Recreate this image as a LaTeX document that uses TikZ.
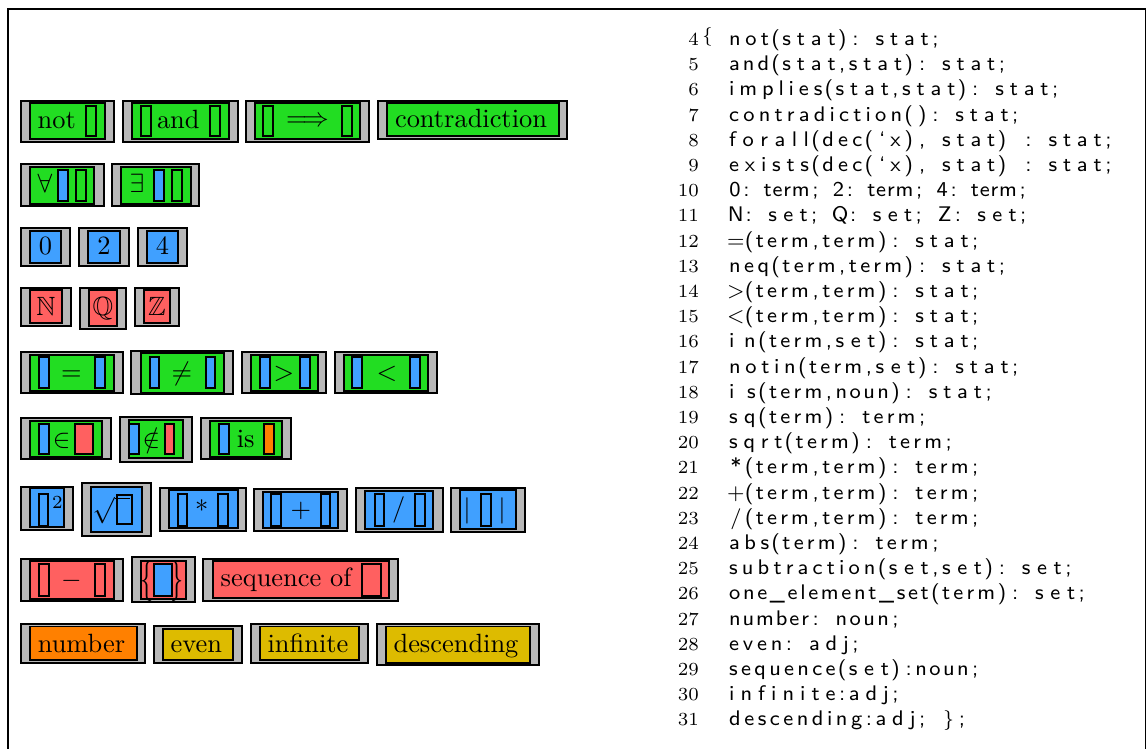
\RequirePackage{fix-cm}
\documentclass[tikz,border=0pt]{standalone}
\usepackage{amsmath,amssymb}
\usepackage{graphicx}
\usetikzlibrary{fit}

\definecolor{stmtgreen}{RGB}{34,221,34}
\definecolor{termblue}{RGB}{64,160,255}
\definecolor{setred}{RGB}{255,96,96}
\definecolor{nounorange}{RGB}{255,128,0}
\definecolor{adjgold}{RGB}{221,187,0}
\definecolor{boxgray}{RGB}{184,184,184}

% all text is set at its design size and magnified to the drawing scale
\newcommand\magn[1]{\scalebox{2.64}{#1}}
\newcommand\lbltxt[1]{\magn{\fontsize{10}{12}\selectfont #1}}
\newcommand\smalltxt[1]{\magn{\fontsize{7}{8}\selectfont #1}}
\newcommand\codeln[2][5.04pt]{\magn{\sffamily\fontsize{8}{9.5}\selectfont\codetext[#1]{#2}}}

% fixed-column typesetting of a code line: letters/digits form words that
% are spread over whole cells, every other character is centred in a cell
\ExplSyntaxOn
\dim_new:N \l_lsx_cell_dim
\tl_new:N \l_lsx_word_tl
\int_new:N \l_lsx_word_int
\cs_new_protected:Npn \lsx_flush:
  {
    \int_compare:nNnT { \l_lsx_word_int } > { 0 }
      {
        \int_compare:nNnTF { \l_lsx_word_int } = { 1 }
          { \hbox_to_wd:nn { \l_lsx_cell_dim } { \hss \l_lsx_word_tl \hss } }
          { \hbox_to_wd:nn { \l_lsx_cell_dim * \l_lsx_word_int } { \l_lsx_word_tl } }
        \tl_clear:N \l_lsx_word_tl
        \int_zero:N \l_lsx_word_int
      }
  }
\NewDocumentCommand \codetext { O{5.04pt} m }
  {
    \group_begin:
    \dim_set:Nn \l_lsx_cell_dim {#1}
    \tl_clear:N \l_lsx_word_tl
    \int_zero:N \l_lsx_word_int
    \str_map_inline:nn {#2}
      {
        \str_if_in:nnTF { abcdefghijklmnopqrstuvwxyzABCDEFGHIJKLMNOPQRSTUVWXYZ0123456789_ } {##1}
          {
            \int_compare:nNnT { \l_lsx_word_int } > { 0 }
              { \tl_put_right:Nn \l_lsx_word_tl { \hss } }
            \tl_put_right:Nn \l_lsx_word_tl { ##1 }
            \int_incr:N \l_lsx_word_int
          }
          {
            \lsx_flush:
            \str_if_eq:nnTF {##1} {~}
              { \skip_horizontal:n { \l_lsx_cell_dim } }
              { \hbox_to_wd:nn { \l_lsx_cell_dim } { \hss ##1 \hss } }
          }
      }
    \lsx_flush:
    \group_end:
  }
\NewDocumentCommand \codecell { m } { \hbox_to_wd:nn { 5.04pt } { \hss #1 \hss } }
\ExplSyntaxOff

\newcommand\graybox[3]{\node[outerbox, fit={(#2) (#3)}] (#1) {};}
\newcommand\colbox[4]{\node[innerbox, fill=#2, fit={(#3) (#4)}] (#1) {};}
\newcommand\holebox[4]{\node[slotbox, fill=#2, fit={(#3) (#4)}] (#1) {};}

\begin{document}
\begin{tikzpicture}[x=1pt, y=-1pt,
  frame/.style={draw=black, line width=1.5pt},
  outerbox/.style={draw=black, line width=1.8pt, fill=boxgray, inner sep=0pt},
  innerbox/.style={draw=black, line width=1.6pt, inner sep=0pt},
  slotbox/.style={draw=black, line width=1.4pt, inner sep=0pt},
  lbl/.style={inner sep=0pt, anchor=base},
  codeline/.style={inner sep=0pt, anchor=base west},
  lineno/.style={inner sep=0pt, anchor=base east},
  brace/.style={inner sep=0pt, anchor=center}]
\useasboundingbox (0,0) rectangle (1146,749);
\draw[frame] (8,9) rectangle (1145.5,760);

% ---- statements
\graybox{notO}{21,101}{114,142}
\colbox{notI}{stmtgreen}{30,103}{105,139}
\holebox{notS}{stmtgreen}{86,106}{96,136}
\node[lbl] (notT) at (56.7,129) {\lbltxt{not}};

\graybox{andO}{123,101}{238,142}
\colbox{andI}{stmtgreen}{132,103}{229,139}
\holebox{andSa}{stmtgreen}{141,106}{151,136}
\holebox{andSb}{stmtgreen}{210,106}{220,136}
\node[lbl] (andT) at (178.3,129) {\lbltxt{and}};

\graybox{impO}{246,101}{369,142}
\colbox{impI}{stmtgreen}{255,103}{360,139}
\holebox{impSa}{stmtgreen}{263,106}{273,136}
\holebox{impSb}{stmtgreen}{342,106}{352,136}
\node[lbl] (impT) at (307.5,127) {\lbltxt{$\Longrightarrow$}};

\graybox{conO}{378,101}{567,139}
\colbox{conI}{stmtgreen}{387,103}{559,136}
\node[lbl] (conT) at (471,128) {\lbltxt{contradiction}};

% ---- quantifiers
\graybox{allO}{21,164}{104,206}
\colbox{allI}{stmtgreen}{30,167}{94,204}
\holebox{allSa}{termblue}{58,170}{68,201}
\holebox{allSb}{stmtgreen}{76,170}{86,201}
\node[lbl] (allT) at (45,192) {\lbltxt{$\forall$}};

\graybox{exO}{112,164}{199,206}
\colbox{exI}{stmtgreen}{121,167}{191,204}
\holebox{exSa}{termblue}{154,170}{164,201}
\holebox{exSb}{stmtgreen}{172,170}{182,201}
\node[lbl] (exT) at (137,192) {\lbltxt{$\exists$}};

% ---- numbers
\graybox{zeroO}{21,228}{70,266}
\colbox{zeroI}{termblue}{30,231}{61,263}
\node[lbl] (zeroT) at (45.5,254) {\lbltxt{0}};
\graybox{twoO}{79,228}{129,266}
\colbox{twoI}{termblue}{88,231}{120,263}
\node[lbl] (twoT) at (104,254) {\lbltxt{2}};
\graybox{fourO}{138,228}{187,266}
\colbox{fourI}{termblue}{147,231}{178,263}
\node[lbl] (fourT) at (162.5,254) {\lbltxt{4}};

% ---- sets
\graybox{natO}{21,288}{71,326}
\colbox{natI}{setred}{30,290}{62,323}
\node[lbl] (natT) at (46,315) {\lbltxt{$\mathbb{N}$}};
\graybox{ratO}{80,288}{126,329}
\colbox{ratI}{setred}{89,290}{117,326}
\node[lbl] (ratT) at (103,315) {\lbltxt{$\mathbb{Q}$}};
\graybox{intO}{135,288}{179,326}
\colbox{intI}{setred}{144,290}{170,323}
\node[lbl] (intT) at (157,315) {\lbltxt{$\mathbb{Z}$}};

% ---- comparisons
\graybox{eqO}{21,352}{123,393}
\colbox{eqI}{stmtgreen}{30,355}{114,391}
\holebox{eqSa}{termblue}{39,357}{49,388}
\holebox{eqSb}{termblue}{95,357}{105,388}
\node[lbl] (eqT) at (71.3,380) {\lbltxt{$=$}};

\graybox{neO}{131,351}{233,394}
\colbox{neI}{stmtgreen}{141,353}{224,393}
\holebox{neSa}{termblue}{150,357}{159,388}
\holebox{neSb}{termblue}{206,357}{215,388}
\node[lbl] (neT) at (182,380) {\lbltxt{$\neq$}};

\graybox{gtO}{242,352}{326,393}
\colbox{gtI}{stmtgreen}{251,355}{318,391}
\holebox{gtSa}{termblue}{260,357}{270,388}
\holebox{gtSb}{termblue}{300,357}{310,388}
\node[lbl] (gtT) at (284,380) {\lbltxt{$>$}};

\graybox{ltO}{335,352}{437,393}
\colbox{ltI}{stmtgreen}{344,355}{428,391}
\holebox{ltSa}{termblue}{352,357}{362,388}
\holebox{ltSb}{termblue}{410,357}{420,388}
\node[lbl] (ltT) at (387,380) {\lbltxt{$<$}};

% ---- membership
\graybox{inO}{21,418}{111,459}
\colbox{inI}{stmtgreen}{30,421}{102,457}
\holebox{inSa}{termblue}{39,424}{49,454}
\holebox{inSb}{setred}{75,424}{93,454}
\node[lbl] (inT) at (61.7,447) {\lbltxt{$\in$}};

\graybox{ninO}{120,417}{192,462}
\colbox{ninI}{stmtgreen}{129,420}{183,458}
\holebox{ninSa}{termblue}{129,424}{139,454}
\holebox{ninSb}{setred}{165,424}{174,454}
\node[lbl] (ninT) at (151.3,447) {\lbltxt{$\notin$}};

\graybox{isO}{201,418}{291,459}
\colbox{isI}{stmtgreen}{210,421}{282,457}
\holebox{isSa}{termblue}{219,424}{229,454}
\holebox{isSb}{nounorange}{264,424}{274,454}
\node[lbl] (isT) at (245.7,447) {\lbltxt{is}};

% ---- arithmetic
\graybox{sqO}{21,487}{73,530}
\colbox{sqI}{termblue}{30,488}{64,527}
\holebox{sqS}{termblue}{39,494}{48,526}
\node[lbl] (sqT) at (57.5,508) {\smalltxt{2}};

\graybox{rtO}{82,483}{151,536}
\colbox{rtI}{termblue}{91,487}{142,532}
\holebox{rtS}{termblue}{117,495}{132,524}
\node[lbl, anchor=base west] (rtT) at (92.5,517) {\lbltxt{$\sqrt{\vrule height 6.4pt depth 2.65pt width 0pt\hspace{5.9pt}}$}};

\graybox{mulO}{160,488}{246,531}
\colbox{mulI}{termblue}{169,490}{238,528}
\holebox{mulSa}{termblue}{178,494}{187,526}
\holebox{mulSb}{termblue}{218,494}{228,526}
\node[lbl] (mulT) at (201.7,519) {\lbltxt{*}};

\graybox{addO}{254,489}{347,531}
\colbox{addI}{termblue}{263,492}{338,528}
\holebox{addSa}{termblue}{271,494}{281,526}
\holebox{addSb}{termblue}{321,494}{330,526}
\node[lbl] (addT) at (301,517) {\lbltxt{$+$}};

\graybox{divO}{356,488}{443,532}
\colbox{divI}{termblue}{365,491}{433,529}
\holebox{divSa}{termblue}{375,494}{384,526}
\holebox{divSb}{termblue}{415,494}{425,526}
\node[lbl] (divT) at (398.8,516) {\lbltxt{/}};

\graybox{absO}{451,488}{525,532}
\colbox{absI}{termblue}{460,490}{516,529}
\holebox{absS}{termblue}{481,494}{491,526}
\node[lbl] (absL) at (467,517) {\lbltxt{$|$}};
\node[lbl] (absR) at (502,517) {\lbltxt{$|$}};

% ---- set builders
\graybox{subO}{21,559}{123,601}
\colbox{subI}{setred}{30,561}{114,599}
\holebox{subSa}{setred}{39,564}{49,596}
\holebox{subSb}{setred}{95,564}{105,596}
\node[lbl] (subT) at (71.5,587) {\lbltxt{$-$}};

\graybox{oneO}{132,557}{195,602}
\colbox{oneI}{setred}{141,561}{186,599}
\holebox{oneS}{termblue}{154,564}{172,596}
\node[lbl, anchor=center] (oneL) at (146.8,581.2) {\lbltxt{\scalebox{1}[1.55]{$\{$}}};
\node[lbl, anchor=center] (oneR) at (177.5,581.2) {\lbltxt{\scalebox{1}[1.55]{$\}$}}};

\graybox{seqO}{203,559}{398,601}
\colbox{seqI}{setred}{213,561}{389,598}
\holebox{seqS}{setred}{362,564}{381,596}
\node[lbl, anchor=base west] (seqT) at (220.5,586) {\lbltxt{sequence of}};

% ---- nouns and adjectives
\graybox{numO}{21,624}{145,663}
\colbox{numI}{nounorange}{30,626.5}{137,660}
\node[lbl] (numT) at (81.5,652) {\lbltxt{number}};
\graybox{evenO}{154,626}{242,663}
\colbox{evenI}{adjgold}{163,629}{233,660}
\node[lbl] (evenT) at (196.3,652) {\lbltxt{even}};
\graybox{infO}{251,624}{368,663}
\colbox{infI}{adjgold}{260,626.5}{359,660}
\node[lbl] (infT) at (308,652) {\lbltxt{infinite}};
\graybox{descO}{377,624}{539,665}
\colbox{descI}{adjgold}{386,626.5}{530,663}
\node[lbl] (descT) at (456,652) {\lbltxt{descending}};

% ---- signature listing
\foreach \k in {4,...,31}
  \node[lineno] (n\k) at (699,{45.5+25.2*(\k-4)}) {\smalltxt{\k}};
\node[brace] (open) at (707.5,37) {\smalltxt{\{}};
\node[codeline] (c4)  at (729,{45.5+25.2*0})  {\codeln{not(stat): stat;}};
\node[codeline] (c5)  at (729,{45.5+25.2*1})  {\codeln{and(stat,stat): stat;}};
\node[codeline] (c6)  at (729,{45.5+25.2*2})  {\codeln{implies(stat,stat): stat;}};
\node[codeline] (c7)  at (729,{45.5+25.2*3})  {\codeln{contradiction(): stat;}};
\node[codeline] (c8)  at (729,{45.5+25.2*4})  {\codeln{forall(dec(‘x), stat) : stat;}};
\node[codeline] (c9)  at (729,{45.5+25.2*5})  {\codeln{exists(dec(‘x), stat) : stat;}};
\node[codeline] (c10) at (729,{45.5+25.2*6})  {\codeln[4.36pt]{0: term; 2: term; 4: term;}};
\node[codeline] (c11) at (729,{45.5+25.2*7})  {\codeln[4.95pt]{N: set; Q: set; Z: set;}};
\node[codeline] (c12) at (729,{45.5+25.2*8})  {\codeln{=(term,term): stat;}};
\node[codeline] (c13) at (729,{45.5+25.2*9})  {\codeln{neq(term,term): stat;}};
\node[codeline] (c14) at (729,{45.5+25.2*10}) {\codeln{>(term,term): stat;}};
\node[codeline] (c15) at (729,{45.5+25.2*11}) {\codeln{<(term,term): stat;}};
\node[codeline] (c16) at (729,{45.5+25.2*12}) {\codeln{in(term,set): stat;}};
\node[codeline] (c17) at (729,{45.5+25.2*13}) {\codeln{notin(term,set): stat;}};
\node[codeline] (c18) at (729,{45.5+25.2*14}) {\codeln{is(term,noun): stat;}};
\node[codeline] (c19) at (729,{45.5+25.2*15}) {\codeln{sq(term): term;}};
\node[codeline] (c20) at (729,{45.5+25.2*16}) {\codeln{sqrt(term): term;}};
\node[codeline] (c21) at (729,{45.5+25.2*17}) {\codeln{*(term,term): term;}};
\node[codeline] (c22) at (729,{45.5+25.2*18}) {\codeln{+(term,term): term;}};
\node[codeline] (c23) at (729,{45.5+25.2*19}) {\codeln{/(term,term): term;}};
\node[codeline] (c24) at (729,{45.5+25.2*20}) {\codeln{abs(term): term;}};
\node[codeline] (c25) at (729,{45.5+25.2*21}) {\codeln{subtraction(set,set): set;}};
\node[codeline] (c26) at (729,{45.5+25.2*22}) {\codeln{one_element_set(term): set;}};
\node[codeline] (c27) at (729,{45.5+25.2*23}) {\codeln{number: noun;}};
\node[codeline] (c28) at (729,{45.5+25.2*24}) {\codeln{even: adj;}};
\node[codeline] (c29) at (729,{45.5+25.2*25}) {\codeln{sequence(set):noun;}};
\node[codeline] (c30) at (729,{45.5+25.2*26}) {\codeln{infinite:adj;}};
\node[codeline] (c31) at (729,{45.5+25.2*27}) {\magn{\sffamily\fontsize{8}{9.5}\selectfont\codetext{descending:adj; }\codecell{\rmfamily\fontsize{7.5}{9}\selectfont\}}\codecell{;}}};
\end{tikzpicture}
\end{document}
